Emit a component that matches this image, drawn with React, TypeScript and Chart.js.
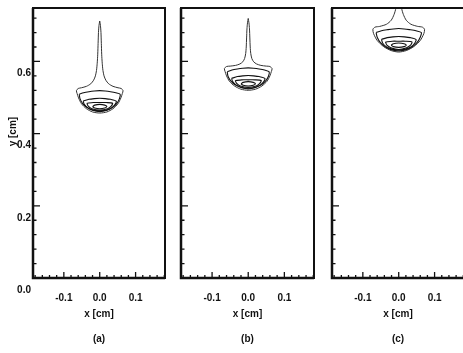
import React, { useEffect, useRef } from 'react';
import { Chart, registerables } from 'chart.js';
Chart.register(...registerables);

type Pt = [number, number];

// ---- axes ----
const xMin = -0.186;
const xMax = 0.182;
const yMin = 0;
const yMax = 0.748;
const xTickValues = [-0.1, 0, 0.1];
const xTickLabels = ['-0.1', '0.0', '0.1'];
const yTickValues = [0, 0.2, 0.4, 0.6];
const yTickLabels = ['0.0', '0.2', '0.4', '0.6'];
const xMinorTicks = [-0.18, -0.16, -0.14, -0.12, -0.08, -0.06, -0.04, -0.02, 0.02, 0.04, 0.06, 0.08, 0.12, 0.14, 0.16, 0.18];
const yMinorTicks = [0.04, 0.08, 0.12, 0.16, 0.24, 0.28, 0.32, 0.36, 0.44, 0.48, 0.52, 0.56, 0.64, 0.68, 0.72];
const xTitle = 'x [cm]';
const yTitle = 'y [cm]';
const panelLabels = ['(a)', '(b)', '(c)'];

// ---- panel (a) contours ----
const aOuter: Pt[] = [
  [0, 0.712], [0.002, 0.700], [0.0035, 0.680], [0.0045, 0.650], [0.0055, 0.620], [0.007, 0.595],
  [0.009, 0.575], [0.012, 0.560], [0.017, 0.548], [0.025, 0.538], [0.037, 0.531], [0.051, 0.527],
  [0.060, 0.525], [0.065, 0.519],
  [0.063, 0.511], [0.059, 0.499], [0.051, 0.483], [0.037, 0.469], [0.020, 0.460], [0, 0.457],
  [-0.020, 0.460], [-0.037, 0.469], [-0.051, 0.483], [-0.059, 0.499], [-0.063, 0.511],
  [-0.065, 0.519], [-0.060, 0.525], [-0.051, 0.527], [-0.037, 0.531], [-0.025, 0.538], [-0.017, 0.548],
  [-0.012, 0.560], [-0.009, 0.575], [-0.007, 0.595], [-0.0055, 0.620], [-0.0045, 0.650], [-0.0035, 0.680],
  [-0.002, 0.700], [0, 0.712],
];
const aLevel2: Pt[] = [
  [-0.057, 0.509], [-0.045, 0.513], [-0.030, 0.516], [-0.015, 0.518], [0, 0.519], [0.015, 0.518],
  [0.030, 0.516], [0.045, 0.513], [0.057, 0.509], [0.055, 0.497], [0.048, 0.484], [0.035, 0.472],
  [0.018, 0.464], [0, 0.461], [-0.018, 0.464], [-0.035, 0.472], [-0.048, 0.484], [-0.055, 0.497], [-0.057, 0.509],
];
const aLevel3: Pt[] = [
  [-0.046, 0.490], [-0.030, 0.495], [-0.015, 0.497], [0, 0.498], [0.015, 0.497], [0.030, 0.495],
  [0.046, 0.490], [0.043, 0.481], [0.034, 0.472], [0.018, 0.465], [0, 0.463], [-0.018, 0.465],
  [-0.034, 0.472], [-0.043, 0.481], [-0.046, 0.490],
];
const aLevel4: Pt[] = [
  [-0.036, 0.484], [-0.018, 0.486], [0, 0.486], [0.018, 0.486], [0.036, 0.484], [0.032, 0.476],
  [0.022, 0.469], [0, 0.465], [-0.022, 0.469], [-0.032, 0.476], [-0.036, 0.484],
];
const aLevel5: Pt[] = [
  [-0.020, 0.475], [-0.014, 0.479], [0, 0.481], [0.014, 0.479], [0.020, 0.475], [0.014, 0.471],
  [0, 0.469], [-0.014, 0.471], [-0.020, 0.475],
];

// ---- panel (b) contours ----
const bOuter: Pt[] = [
  [0, 0.719], [0.002, 0.707], [0.0035, 0.690], [0.0045, 0.665], [0.0055, 0.640], [0.007, 0.622],
  [0.010, 0.608], [0.015, 0.599], [0.023, 0.593], [0.035, 0.589], [0.050, 0.587], [0.060, 0.586],
  [0.066, 0.580],
  [0.064, 0.572], [0.060, 0.560], [0.052, 0.545], [0.038, 0.532], [0.020, 0.523], [0, 0.520],
  [-0.020, 0.523], [-0.038, 0.532], [-0.052, 0.545], [-0.060, 0.560], [-0.064, 0.572],
  [-0.066, 0.580], [-0.060, 0.586], [-0.050, 0.587], [-0.035, 0.589], [-0.023, 0.593], [-0.015, 0.599],
  [-0.010, 0.608], [-0.007, 0.622], [-0.0055, 0.640], [-0.0045, 0.665], [-0.0035, 0.690], [-0.002, 0.707],
  [0, 0.719],
];
const bLevel2: Pt[] = [
  [-0.058, 0.571], [-0.045, 0.576], [-0.030, 0.579], [-0.015, 0.581], [0, 0.582], [0.015, 0.581],
  [0.030, 0.579], [0.045, 0.576], [0.058, 0.571], [0.056, 0.559], [0.049, 0.547], [0.036, 0.535],
  [0.018, 0.527], [0, 0.524], [-0.018, 0.527], [-0.036, 0.535], [-0.049, 0.547], [-0.056, 0.559], [-0.058, 0.571],
];
const bLevel3: Pt[] = [
  [-0.046, 0.553], [-0.030, 0.558], [-0.015, 0.560], [0, 0.561], [0.015, 0.560], [0.030, 0.558],
  [0.046, 0.553], [0.043, 0.544], [0.034, 0.535], [0.018, 0.528], [0, 0.526], [-0.018, 0.528],
  [-0.034, 0.535], [-0.043, 0.544], [-0.046, 0.553],
];
const bLevel4: Pt[] = [
  [-0.036, 0.547], [-0.018, 0.549], [0, 0.549], [0.018, 0.549], [0.036, 0.547], [0.032, 0.539],
  [0.022, 0.532], [0, 0.528], [-0.022, 0.532], [-0.032, 0.539], [-0.036, 0.547],
];
const bLevel5: Pt[] = [
  [-0.020, 0.538], [-0.014, 0.542], [0, 0.544], [0.014, 0.542], [0.020, 0.538], [0.014, 0.534],
  [0, 0.532], [-0.014, 0.534], [-0.020, 0.538],
];

// ---- panel (c) contours ----
const cOuter: Pt[] = [
  [0.006, 0.80], [0.008, 0.748], [0.013, 0.730], [0.021, 0.714], [0.034, 0.703], [0.053, 0.697],
  [0.066, 0.695], [0.072, 0.689], [0.070, 0.677], [0.060, 0.658], [0.042, 0.641], [0.021, 0.630],
  [0, 0.626], [-0.021, 0.630], [-0.042, 0.641], [-0.060, 0.658], [-0.070, 0.677], [-0.072, 0.689],
  [-0.066, 0.695], [-0.053, 0.697], [-0.034, 0.703], [-0.021, 0.714], [-0.013, 0.730], [-0.008, 0.748],
  [-0.006, 0.80],
];
const cLevel2: Pt[] = [
  [-0.063, 0.680], [-0.048, 0.685], [-0.030, 0.688], [-0.015, 0.690], [0, 0.691], [0.015, 0.690],
  [0.030, 0.688], [0.048, 0.685], [0.063, 0.680], [0.060, 0.667], [0.051, 0.652], [0.037, 0.640],
  [0.019, 0.632], [0, 0.629], [-0.019, 0.632], [-0.037, 0.640], [-0.051, 0.652], [-0.060, 0.667], [-0.063, 0.680],
];
const cLevel3: Pt[] = [
  [-0.048, 0.661], [-0.032, 0.666], [-0.016, 0.668], [0, 0.669], [0.016, 0.668], [0.032, 0.666],
  [0.048, 0.661], [0.045, 0.651], [0.035, 0.641], [0.019, 0.634], [0, 0.631], [-0.019, 0.634],
  [-0.035, 0.641], [-0.045, 0.651], [-0.048, 0.661],
];
const cLevel4: Pt[] = [
  [-0.037, 0.654], [-0.018, 0.656], [0, 0.656], [0.018, 0.656], [0.037, 0.654], [0.033, 0.645],
  [0.022, 0.638], [0, 0.633], [-0.022, 0.638], [-0.033, 0.645], [-0.037, 0.654],
];
const cLevel5: Pt[] = [
  [-0.021, 0.645], [-0.015, 0.649], [0, 0.651], [0.015, 0.649], [0.021, 0.645], [0.015, 0.641],
  [0, 0.639], [-0.015, 0.641], [-0.021, 0.645],
];

const FONT = '"Liberation Sans", Arial, Helvetica, sans-serif';
const INK = '#111';

interface PanelCfg {
  left: number;
  width: number;
  yAxisWidth: number;
  padRight: number;
  showY: boolean;
  label: string;
  contours: Pt[][];
}

const panels: PanelCfg[] = [
  { left: 0, width: 170, yAxisWidth: 33, padRight: 5, showY: true, label: panelLabels[0], contours: [aOuter, aLevel2, aLevel3, aLevel4, aLevel5] },
  { left: 166, width: 154, yAxisWidth: 15, padRight: 6, showY: false, label: panelLabels[1], contours: [bOuter, bLevel2, bLevel3, bLevel4, bLevel5] },
  { left: 320, width: 144, yAxisWidth: 12, padRight: 0, showY: false, label: panelLabels[2], contours: [cOuter, cLevel2, cLevel3, cLevel4, cLevel5] },
];

const framePlugin = {
  id: 'frame',
  afterDraw(chart: any, _args: any, opts: any) {
    const { ctx, chartArea } = chart;
    const { left, right, top, bottom } = chartArea;
    const xs = chart.scales.x;
    const ys = chart.scales.y;
    ctx.save();
    ctx.strokeStyle = INK;
    ctx.lineWidth = 1.3;
    ctx.beginPath();
    xMinorTicks.forEach((v) => {
      const p = xs.getPixelForValue(v);
      ctx.moveTo(p, bottom);
      ctx.lineTo(p, bottom - 3);
    });
    xTickValues.forEach((v) => {
      const p = xs.getPixelForValue(v);
      ctx.moveTo(p, bottom);
      ctx.lineTo(p, bottom - 6);
    });
    yMinorTicks.forEach((v) => {
      const p = ys.getPixelForValue(v);
      ctx.moveTo(left, p);
      ctx.lineTo(left + 3.5, p);
    });
    yTickValues.forEach((v) => {
      const p = ys.getPixelForValue(v);
      ctx.moveTo(left, p);
      ctx.lineTo(left + 7, p);
    });
    ctx.stroke();
    ctx.lineWidth = 2;
    ctx.strokeRect(left, top, right - left, bottom - top);
    ctx.beginPath();
    ctx.lineWidth = 2.5;
    ctx.moveTo(left, top);
    ctx.lineTo(left, bottom);
    ctx.lineTo(right, bottom);
    ctx.stroke();
    if (opts && opts.yTitle) {
      ctx.fillStyle = INK;
      ctx.font = `bold 10px ${FONT}`;
      ctx.textAlign = 'center';
      ctx.textBaseline = 'middle';
      ctx.translate(13, ys.getPixelForValue(0.4) - 2);
      ctx.rotate(-Math.PI / 2);
      ctx.fillText(yTitle, 0, 0);
    }
    ctx.restore();
  },
};

function Panel({ cfg }: { cfg: PanelCfg }) {
  const ref = useRef<HTMLCanvasElement>(null);
  useEffect(() => {
    if (!ref.current) return;
    const chart = new Chart(ref.current, {
      type: 'scatter',
      data: {
        datasets: cfg.contours.map((c, i) => ({
          data: c.map(([x, y]) => ({ x, y })),
          showLine: true,
          borderColor: i === 0 ? '#333' : '#111',
          borderWidth: i === 0 ? 1 : 1.1,
          pointRadius: 0,
          tension: 0.25,
          fill: false,
        })),
      },
      options: {
        responsive: false,
        maintainAspectRatio: false,
        animation: false,
        events: [],
        layout: { padding: { top: 8, right: cfg.padRight, left: 0, bottom: 0 } },
        plugins: {
          legend: { display: false },
          tooltip: { enabled: false },
          frame: { yTitle: cfg.showY },
        } as any,
        scales: {
          x: {
            type: 'linear',
            min: xMin,
            max: xMax,
            afterBuildTicks: (s: any) => {
              s.ticks = xTickValues.map((v) => ({ value: v }));
            },
            afterFit: (s: any) => {
              s.height = 75;
            },
            grid: { display: false, drawTicks: false },
            border: { display: false },
            ticks: {
              autoSkip: false,
              maxRotation: 0,
              padding: 14,
              color: INK,
              font: { family: FONT, size: 10, weight: 'bold' },
              callback: (_v: any, i: number) => xTickLabels[i],
            },
            title: {
              display: true,
              text: [xTitle, cfg.label],
              color: INK,
              font: { family: FONT, size: 10, weight: 'bold', lineHeight: 2.5 },
              padding: { top: 0, bottom: 1 },
            },
          },
          y: {
            type: 'linear',
            min: yMin,
            max: yMax,
            afterBuildTicks: (s: any) => {
              s.ticks = yTickValues.map((v) => ({ value: v }));
            },
            afterFit: (s: any) => {
              s.width = cfg.yAxisWidth;
            },
            grid: { display: false, drawTicks: false },
            border: { display: false },
            ticks: {
              display: cfg.showY,
              autoSkip: false,
              padding: 2,
              labelOffset: 12,
              color: INK,
              font: { family: FONT, size: 10, weight: 'bold' },
              callback: (_v: any, i: number) => yTickLabels[i],
            },
          },
        },
      } as any,
      plugins: [framePlugin],
    });
    return () => chart.destroy();
  }, [cfg]);
  return (
    <canvas
      ref={ref}
      width={cfg.width}
      height={353}
      style={{ position: 'absolute', left: cfg.left, top: 0, width: cfg.width, height: 353 }}
    />
  );
}

export default function App() {
  return (
    <div
      style={{
        position: 'fixed',
        left: 0,
        top: 0,
        width: 463,
        height: 353,
        overflow: 'hidden',
        background: '#fff',
      }}
    >
      {panels.map((p) => (
        <Panel key={p.label} cfg={p} />
      ))}
    </div>
  );
}
